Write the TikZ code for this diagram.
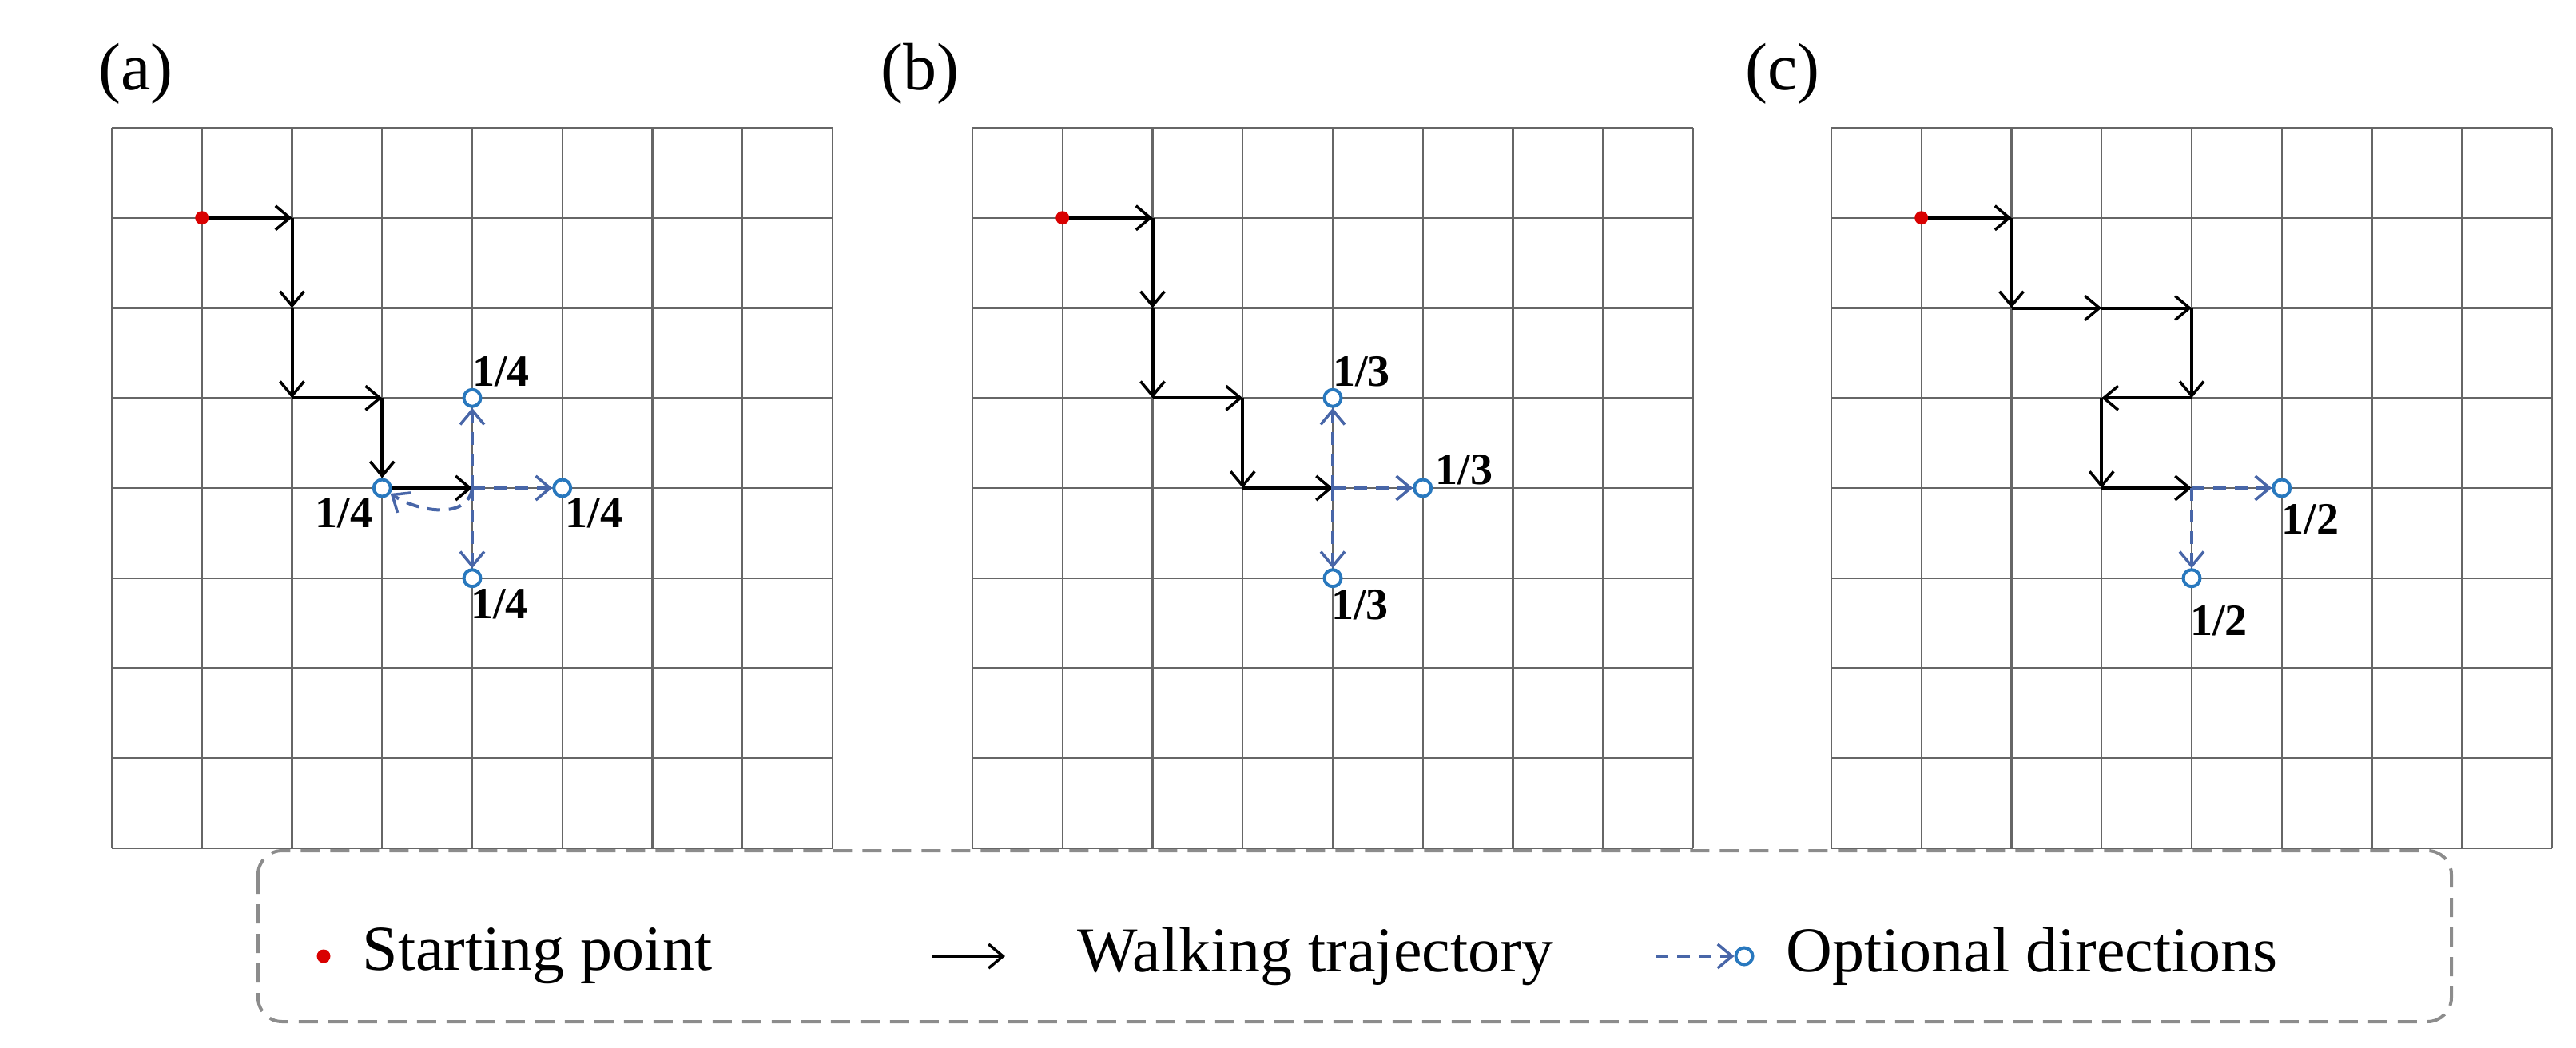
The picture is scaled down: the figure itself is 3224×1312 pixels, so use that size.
\documentclass[tikz,border=0pt]{standalone}
\usepackage{fontspec}
\setmainfont{Liberation Serif}
\usetikzlibrary{arrows.meta,calc}
\definecolor{optblue}{RGB}{72,102,168}
\definecolor{ringblue}{RGB}{40,120,190}
\begin{document}
\begin{tikzpicture}[x=1pt,y=-1pt,
  grid/.style={draw=black!60,line width=2.2pt},
  walk/.style={draw=black,line width=4pt,-{Straight Barb[length=18pt,width=30pt,line width=3.5pt]}},
  opt/.style={draw=optblue,line width=4pt,dash pattern=on 16pt off 11pt,-{Straight Barb[length=18pt,width=30pt,line width=3.5pt]}},
  ring/.style={circle,draw=ringblue,fill=white,line width=4pt,minimum size=21pt,inner sep=0pt},
  start/.style={circle,fill=red!85!black,minimum size=17pt,inner sep=0pt},
  prob/.style={font=\fontsize{56}{62}\selectfont\bfseries,inner sep=2pt},
  plabel/.style={font=\fontsize{84}{96}\selectfont},
  legtext/.style={font=\fontsize{80}{92}\selectfont,anchor=west}]
\useasboundingbox (0,0) rectangle (3224,1312);
\foreach \p/\sx in {a/140,b/1217,c/2292}{
  \begin{scope}[shift={(\sx,160)}]
    \foreach \k in {0,...,8}{
      \draw[grid] (\k*112.75,0) -- (\k*112.75,902);
      \draw[grid] (0,\k*112.75) -- (902,\k*112.75);}
    \foreach \i in {0,...,8}{\foreach \j in {0,...,8}{
      \coordinate (\p\i\j) at (\i*112.75,\j*112.75);}}
  \end{scope}}
\node[plabel] (la) at (170,92) {(a)};
\node[plabel] (lb) at (1151,92) {(b)};
\node[plabel] (lc) at (2231,92) {(c)};
% panel a
\node[start] (sa) at (a11) {};
\draw[walk] (sa) -- (a21);
\draw[walk] (a21) -- (a22);
\draw[walk] (a22) -- (a23);
\draw[walk] (a23) -- (a33);
\node[ring] (ra1) at (a34) {};
\draw[walk] (a33) -- (ra1);
\draw[walk] (ra1) -- (a44);
\node[ring] (ra2) at (a43) {};
\node[ring] (ra3) at (a54) {};
\node[ring] (ra4) at (a45) {};
\draw[opt] (a44) -- (ra2);
\draw[opt] (a44) -- (ra3);
\draw[opt] (a44) -- (ra4);
\draw[opt] (a44) .. controls +(-5,40) and +(45,30) .. (ra1);
\node[prob,anchor=south west] at ($(a43)+(-2,-12)$) {1/4};
\node[prob,anchor=north east] at ($(a34)+(-10,10)$) {1/4};
\node[prob,anchor=north west] at ($(a54)+(2,10)$) {1/4};
\node[prob,anchor=north west] at ($(a45)+(-4,12)$) {1/4};
% panel b
\node[start] (sb) at (b11) {};
\draw[walk] (sb) -- (b21);
\draw[walk] (b21) -- (b22);
\draw[walk] (b22) -- (b23);
\draw[walk] (b23) -- (b33);
\draw[walk] (b33) -- (b34);
\draw[walk] (b34) -- (b44);
\node[ring] (rb2) at (b43) {};
\node[ring] (rb3) at (b54) {};
\node[ring] (rb4) at (b45) {};
\draw[opt] (b44) -- (rb2);
\draw[opt] (b44) -- (rb3);
\draw[opt] (b44) -- (rb4);
\node[prob,anchor=south west] at ($(b43)+(-2,-12)$) {1/3};
\node[prob,anchor=south west] at ($(b54)+(14,-2)$) {1/3};
\node[prob,anchor=north west] at ($(b45)+(-4,12)$) {1/3};
% panel c
\node[start] (sc) at (c11) {};
\draw[walk] (sc) -- (c21);
\draw[walk] (c21) -- (c22);
\draw[walk] (c22) -- (c32);
\draw[walk] (c32) -- (c42);
\draw[walk] (c42) -- (c43);
\draw[walk] (c43) -- (c33);
\draw[walk] (c33) -- (c34);
\draw[walk] (c34) -- (c44);
\node[ring] (rc3) at (c54) {};
\node[ring] (rc4) at (c45) {};
\draw[opt] (c44) -- (rc3);
\draw[opt] (c44) -- (rc4);
\node[prob,anchor=north west] at ($(c54)+(-2,18)$) {1/2};
\node[prob,anchor=north west] at ($(c45)+(-4,32)$) {1/2};
% legend
\draw[draw=black!45,line width=4pt,dash pattern=on 24pt off 13pt,rounded corners=30pt] (323,1065) rectangle (3068,1279);
\node[start] (ls) at (405,1197) {};
\node[legtext] (lt1) at (450,1197) {Starting point};
\coordinate (w1) at (1166,1197);
\coordinate (w2) at (1258,1197);
\draw[walk] (w1) -- (w2);
\node[legtext] (lt2) at (1345,1197) {Walking trajectory};
\coordinate (o1) at (2072,1197);
\node[ring] (o2) at (2183,1197) {};
\draw[opt] (o1) -- (o2);
\node[legtext] (lt3) at (2232,1197) {Optional directions};
\end{tikzpicture}
\end{document}
